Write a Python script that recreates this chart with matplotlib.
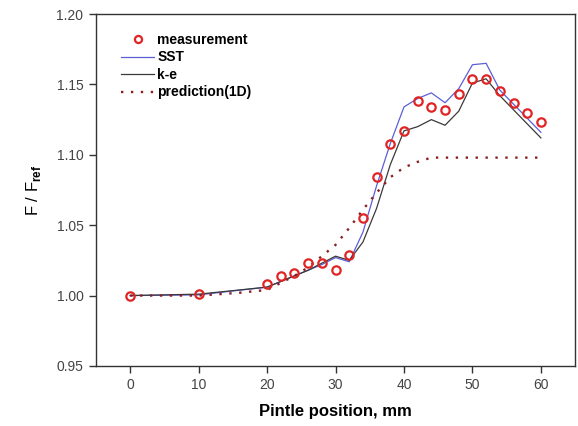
import numpy as np
import matplotlib
matplotlib.use('Agg')
import matplotlib.pyplot as plt

plt.rcParams['font.family'] = ['Liberation Sans', 'DejaVu Sans']
plt.rcParams['mathtext.fontset'] = 'custom'
plt.rcParams['mathtext.rm'] = 'Liberation Sans'
plt.rcParams['mathtext.bf'] = 'Liberation Sans:bold'

# measurement points
meas_x = [0, 10, 20, 22, 24, 26, 28, 30, 32, 34, 36, 38, 40, 42, 44, 46, 48, 50, 52, 54, 56, 58, 60]
meas_y = [1.000, 1.001, 1.008, 1.014, 1.016, 1.023, 1.023, 1.018, 1.029, 1.055, 1.084, 1.108,
          1.117, 1.138, 1.134, 1.132, 1.143, 1.154, 1.154, 1.145, 1.137, 1.130, 1.123]

# CFD results
cfd_x = [0, 10, 20, 22, 24, 26, 28, 30, 32, 34, 36, 38, 40, 42, 44, 46, 48, 50, 52, 54, 56, 58, 60]
sst_y = [1.000, 1.0005, 1.006, 1.010, 1.014, 1.018, 1.022, 1.027, 1.024, 1.045, 1.078, 1.108,
         1.134, 1.140, 1.144, 1.137, 1.147, 1.164, 1.165, 1.146, 1.136, 1.126, 1.116]
ke_y = [1.000, 1.001, 1.006, 1.010, 1.014, 1.018, 1.023, 1.028, 1.025, 1.038, 1.062, 1.093,
        1.117, 1.120, 1.125, 1.121, 1.131, 1.151, 1.154, 1.142, 1.132, 1.122, 1.112]

# 1D prediction
pred_x = [0, 10, 16, 18, 20, 22, 24, 26, 28, 30, 32, 34, 36, 38, 40, 42, 44, 50, 60]
pred_y = [1.000, 1.000, 1.002, 1.003, 1.004, 1.009, 1.014, 1.020, 1.028, 1.036, 1.048, 1.061,
          1.073, 1.084, 1.091, 1.095, 1.098, 1.098, 1.098]

fig = plt.figure(figsize=(5.78, 4.26), dpi=100)
ax = fig.add_axes([0.166, 0.141, 0.829, 0.826])

ax.plot(meas_x, meas_y, 'o', mfc='none', mec='#e02424', mew=1.6, ms=6, label='measurement', zorder=4)
ax.plot(cfd_x, sst_y, color='#5b5fd6', lw=0.9, label='SST')
ax.plot(cfd_x, ke_y, color='#3a3a3a', lw=0.9, label='k-e')
ax.plot(pred_x, pred_y, color='#8b1e1e', lw=1.7, linestyle=(0, (1, 3.2)), label='prediction(1D)')

ax.set_xlim(-5, 65)
ax.set_ylim(0.95, 1.20)
ax.set_xticks([0, 10, 20, 30, 40, 50, 60])
ax.set_yticks([0.95, 1.00, 1.05, 1.10, 1.15, 1.20])
ax.set_yticklabels(['0.95', '1.00', '1.05', '1.10', '1.15', '1.20'])
ax.tick_params(direction='out', length=5, width=1, labelsize=10, colors='#333333',
               labelcolor='#444444', pad=4)
for s in ax.spines.values():
    s.set_color('#333333')
    s.set_linewidth(1.0)

ax.set_xlabel('Pintle position, mm', fontsize=12, fontweight='bold', labelpad=8)
ax.set_ylabel(r'F / F$_{\mathbf{ref}}$', fontsize=12, labelpad=10)

leg = ax.legend(loc='upper left', bbox_to_anchor=(0.035, 0.97), frameon=False,
                prop={'weight': 'bold', 'size': 10}, handlelength=2.4, handletextpad=0.2,
                labelspacing=0.25, borderaxespad=0.2, markerscale=0.85)

fig.savefig('out.png', dpi=100)
